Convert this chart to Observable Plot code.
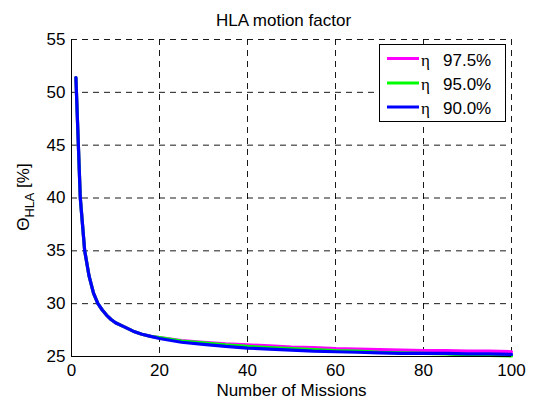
<!DOCTYPE html>
<html>
<head>
<meta charset="utf-8">
<script src="https://cdn.jsdelivr.net/npm/d3@7"></script>
<script src="https://cdn.jsdelivr.net/npm/@observablehq/plot@0.6"></script>
<style>
  html, body { margin: 0; padding: 0; background: #fff; }
  svg { font-family: "Liberation Sans", Arial, sans-serif; }
</style>
</head>
<body>
<div id="chart"></div>
<script>
const title = "HLA motion factor";
const xLabel = "Number of Missions";
const xTicks = [0, 20, 40, 60, 80, 100];
const yTicks = [25, 30, 35, 40, 45, 50, 55];
const seriesNames = ["97.5%", "95.0%", "90.0%"];
const seriesColors = ["#ff00ff", "#00ff00", "#0000ff"];

const missions = [1, 2, 3, 4, 5, 6, 7, 8, 9, 10, 12, 14, 16, 18, 20, 25, 30, 35, 40, 45, 50, 55, 60, 65, 70, 75, 80, 85, 90, 95, 100];
const eta975 = [51.4, 40.0, 35.0, 32.6, 31.0, 30.0, 29.4, 28.9, 28.5, 28.2, 27.8, 27.4, 27.1, 26.9, 26.8, 26.5, 26.35, 26.2, 26.1, 26.0, 25.9, 25.85, 25.75, 25.7, 25.65, 25.6, 25.55, 25.55, 25.5, 25.5, 25.45];
const eta950 = [51.4, 40.0, 35.0, 32.6, 31.0, 30.0, 29.4, 28.9, 28.5, 28.2, 27.8, 27.4, 27.1, 26.9, 26.8, 26.45, 26.3, 26.1, 25.95, 25.85, 25.75, 25.65, 25.55, 25.5, 25.4, 25.35, 25.3, 25.25, 25.15, 25.1, 25.05];
const eta900 = [51.4, 40.0, 35.0, 32.6, 31.0, 30.0, 29.4, 28.9, 28.5, 28.2, 27.8, 27.4, 27.1, 26.9, 26.7, 26.35, 26.15, 25.95, 25.8, 25.7, 25.6, 25.5, 25.45, 25.4, 25.35, 25.3, 25.3, 25.3, 25.25, 25.25, 25.2];

const seriesValues = [eta975, eta950, eta900];
const data = [];
seriesValues.forEach((vals, s) => {
  vals.forEach((v, i) => data.push({series: seriesNames[s], x: missions[i], y: v}));
});

const W = 535, H = 399;
const mL = 71, mR = 24, mT = 39, mB = 43;
const dash = "6,5";
const FS = 17;

const plot = Plot.plot({
  width: W,
  height: H,
  marginLeft: mL,
  marginRight: mR,
  marginTop: mT,
  marginBottom: mB,
  style: {fontSize: FS + "px", fontFamily: "'Liberation Sans', Arial, sans-serif", color: "#000", background: "#fff"},
  x: {domain: [0, 100], ticks: xTicks},
  y: {domain: [25, 55], ticks: yTicks},
  color: {domain: seriesNames, range: seriesColors},
  marks: [
    Plot.gridX(xTicks.filter(d => d > 0), {stroke: "#000", strokeOpacity: 0.9, strokeDasharray: dash}),
    Plot.gridY(yTicks.filter(d => d > 25), {stroke: "#000", strokeOpacity: 0.9, strokeDasharray: dash}),
    Plot.line(data, {x: "x", y: "y", z: "series", stroke: "series", strokeWidth: 3.2, strokeLinejoin: "round", strokeLinecap: "round"}),
    Plot.ruleX([0], {stroke: "#000", strokeWidth: 1}),
    Plot.ruleY([25], {stroke: "#000", strokeWidth: 1}),
    Plot.axisX({ticks: xTicks, tickSize: 0, tickPadding: 7, label: null, fontSize: FS}),
    Plot.axisY({ticks: yTicks, tickSize: 0, tickPadding: 6, label: null, fontSize: FS}),
    Plot.text([title], {frameAnchor: "top", lineAnchor: "middle", dy: -19, dx: -8, fontSize: FS, fill: "#000"}),
    Plot.text([xLabel], {frameAnchor: "bottom", lineAnchor: "middle", dy: 34, fontSize: FS, fill: "#000"})
  ]
});

document.getElementById("chart").appendChild(plot);

const svg = d3.select(plot);

// Y label with subscript
const yl = svg.append("text")
  .attr("transform", `translate(29,197) rotate(-90)`)
  .attr("text-anchor", "middle")
  .attr("font-size", FS)
  .attr("fill", "#000");
yl.append("tspan").text("Θ");
yl.append("tspan").attr("font-size", FS * 0.75).attr("dy", 5).text("HLA");
yl.append("tspan").attr("dy", -5).text(" [%]");

// Legend
const lg = svg.append("g").attr("text-anchor", "start");
lg.append("rect").attr("x", 379.5).attr("y", 44.5).attr("width", 126).attr("height", 77)
  .attr("fill", "#fff").attr("stroke", "#000").attr("stroke-width", 1);
const rowY = [58.5, 83, 107];
seriesNames.forEach((name, i) => {
  lg.append("line").attr("x1", 387).attr("x2", 419).attr("y1", rowY[i]).attr("y2", rowY[i])
    .attr("stroke", seriesColors[i]).attr("stroke-width", 3);
  lg.append("text").attr("x", 421).attr("y", rowY[i] + 7).attr("font-size", FS)
    .attr("text-anchor", "start")
    .attr("font-family", "'Liberation Serif', 'DejaVu Serif', serif").attr("fill", "#000").text("η");
  lg.append("text").attr("x", 443).attr("y", rowY[i] + 7).attr("font-size", FS)
    .attr("text-anchor", "start")
    .attr("fill", "#000").text(name);
});
</script>
</body>
</html>
